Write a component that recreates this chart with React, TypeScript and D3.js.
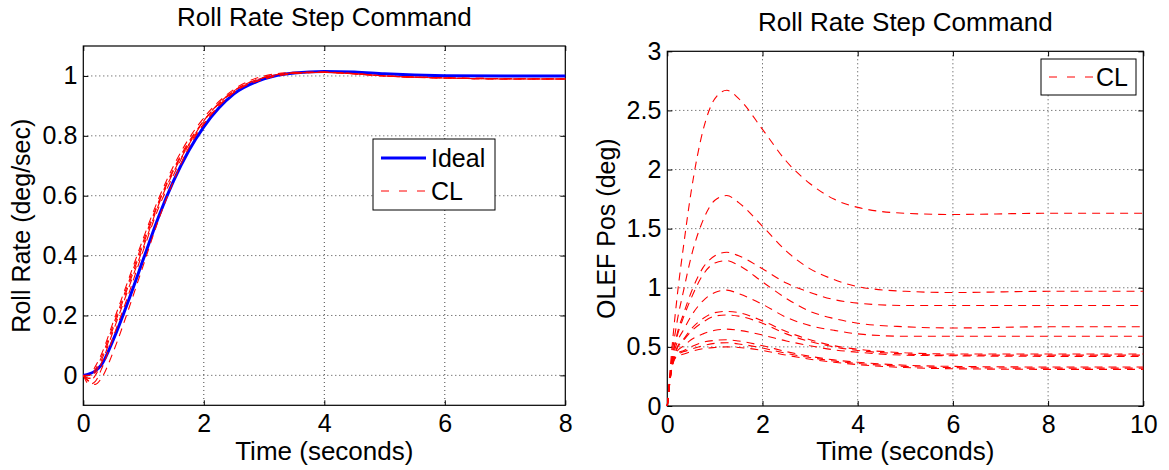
import React, { useEffect, useRef } from 'react';
import * as d3 from 'd3';

const W = 1169;
const H = 470;
const FONT = '"Liberation Sans", Arial, Helvetica, sans-serif';

// left panel: roll rate step response
const rateTime = [0, 0.1, 0.2, 0.3, 0.5, 0.75, 1, 1.25, 1.5, 1.75, 2, 2.5, 3, 3.5, 4, 4.5, 5, 6, 7, 8];
const idealRate = [0, 0.005, 0.015, 0.035, 0.12, 0.25, 0.39, 0.53, 0.65, 0.75, 0.83, 0.94, 0.99, 1.01, 1.015, 1.013, 1.007, 1.001, 1.0, 1.0];
const clRates = [
    [0, -0.01, 0.02, 0.06, 0.17, 0.31, 0.45, 0.58, 0.69, 0.78, 0.85, 0.95, 0.995, 1.01, 1.012, 1.008, 1.0, 0.993, 0.99, 0.99],
    [0, -0.02, 0.0, 0.04, 0.15, 0.29, 0.43, 0.57, 0.68, 0.77, 0.85, 0.95, 0.995, 1.01, 1.012, 1.007, 1.0, 0.993, 0.99, 0.99],
    [0, -0.03, -0.02, 0.02, 0.13, 0.27, 0.42, 0.56, 0.67, 0.77, 0.84, 0.945, 0.99, 1.008, 1.012, 1.007, 1.0, 0.994, 0.991, 0.99],
    [0, -0.02, -0.03, -0.01, 0.08, 0.22, 0.37, 0.52, 0.65, 0.76, 0.84, 0.945, 0.99, 1.008, 1.012, 1.007, 1.0, 0.994, 0.991, 0.99],
    [0, 0.0, 0.03, 0.07, 0.18, 0.32, 0.46, 0.59, 0.70, 0.79, 0.86, 0.955, 1.0, 1.012, 1.013, 1.008, 1.0, 0.993, 0.99, 0.99],
    [0, -0.01, 0.01, 0.05, 0.16, 0.30, 0.44, 0.575, 0.685, 0.775, 0.85, 0.95, 0.995, 1.01, 1.012, 1.007, 1.0, 0.993, 0.99, 0.99],
];

// right panel: OLEF position
const posTime = [0, 0.1, 0.2, 0.35, 0.5, 0.75, 1, 1.25, 1.5, 2, 2.5, 3, 3.5, 4, 5, 6, 8, 10];
const olefPos = [
    [0, 0.50, 0.90, 1.38, 1.81, 2.33, 2.60, 2.67, 2.60, 2.34, 2.07, 1.88, 1.75, 1.68, 1.63, 1.62, 1.63, 1.63],
    [0, 0.43, 0.70, 0.99, 1.26, 1.57, 1.74, 1.78, 1.72, 1.52, 1.31, 1.16, 1.07, 1.01, 0.97, 0.96, 0.97, 0.97],
    [0, 0.39, 0.60, 0.79, 0.96, 1.17, 1.27, 1.30, 1.27, 1.16, 1.04, 0.96, 0.90, 0.87, 0.85, 0.85, 0.85, 0.85],
    [0, 0.39, 0.58, 0.76, 0.91, 1.11, 1.21, 1.23, 1.19, 1.05, 0.91, 0.80, 0.74, 0.70, 0.67, 0.66, 0.67, 0.67],
    [0, 0.37, 0.53, 0.65, 0.76, 0.89, 0.96, 0.98, 0.95, 0.86, 0.75, 0.68, 0.64, 0.61, 0.59, 0.59, 0.59, 0.59],
    [0, 0.35, 0.49, 0.57, 0.65, 0.74, 0.79, 0.80, 0.79, 0.72, 0.63, 0.56, 0.51, 0.48, 0.45, 0.44, 0.44, 0.44],
    [0, 0.35, 0.48, 0.56, 0.63, 0.71, 0.76, 0.77, 0.76, 0.70, 0.61, 0.545, 0.50, 0.47, 0.44, 0.43, 0.43, 0.43],
    [0, 0.34, 0.46, 0.51, 0.56, 0.61, 0.64, 0.65, 0.64, 0.60, 0.55, 0.51, 0.475, 0.455, 0.43, 0.425, 0.42, 0.42],
    [0, 0.33, 0.44, 0.47, 0.50, 0.54, 0.555, 0.56, 0.55, 0.51, 0.46, 0.42, 0.39, 0.37, 0.345, 0.335, 0.33, 0.33],
    [0, 0.33, 0.43, 0.46, 0.48, 0.51, 0.53, 0.535, 0.525, 0.49, 0.445, 0.41, 0.38, 0.36, 0.335, 0.325, 0.32, 0.32],
    [0, 0.33, 0.42, 0.44, 0.46, 0.485, 0.495, 0.50, 0.495, 0.47, 0.43, 0.395, 0.37, 0.35, 0.325, 0.315, 0.31, 0.31],
];

const rateTicksX = [0, 2, 4, 6, 8];
const rateTicksY = [0, 0.2, 0.4, 0.6, 0.8, 1];
const posTicksX = [0, 2, 4, 6, 8, 10];
const posTicksY = [0, 0.5, 1, 1.5, 2, 2.5, 3];

type Panel = {
    left: number; right: number; top: number; bottom: number;
    xDomain: [number, number]; yDomain: [number, number];
    xTicks: number[]; yTicks: number[];
    title: string; xLabel: string; yLabel: string; yLabelX: number;
};

function drawPanel(svg: any, p: Panel) {
    const x = d3.scaleLinear().domain(p.xDomain).range([p.left, p.right]);
    const y = d3.scaleLinear().domain(p.yDomain).range([p.bottom, p.top]);
    const g = svg.append('g');

    // grid
    g.selectAll('.gx').data(p.xTicks.filter((t) => t > p.xDomain[0] && t < p.xDomain[1]))
        .enter().append('line')
        .attr('x1', (d: number) => x(d)).attr('x2', (d: number) => x(d))
        .attr('y1', p.top).attr('y2', p.bottom)
        .attr('stroke', '#444').attr('stroke-width', 1).attr('stroke-dasharray', '1,3');
    g.selectAll('.gy').data(p.yTicks.filter((t) => t > p.yDomain[0] && t < p.yDomain[1]))
        .enter().append('line')
        .attr('x1', p.left).attr('x2', p.right)
        .attr('y1', (d: number) => y(d)).attr('y2', (d: number) => y(d))
        .attr('stroke', '#444').attr('stroke-width', 1).attr('stroke-dasharray', '1,3');

    const styleAxis = (a: any) => {
        a.select('.domain').remove();
        a.selectAll('text').attr('font-family', FONT).attr('font-size', 25).attr('fill', '#000');
        a.selectAll('line').attr('stroke', '#000');
    };

    g.append('g').attr('transform', `translate(0,${p.bottom})`)
        .call(d3.axisBottom(x).tickValues(p.xTicks).tickSizeInner(-5).tickSizeOuter(0).tickPadding(9)
            .tickFormat(d3.format('d') as any))
        .call(styleAxis);
    g.append('g').attr('transform', `translate(${p.left},0)`)
        .call(d3.axisLeft(y).tickValues(p.yTicks).tickSizeInner(-5).tickSizeOuter(0).tickPadding(6)
            .tickFormat((d: any) => String(d)))
        .call(styleAxis);
    g.append('g').attr('transform', `translate(0,${p.top})`)
        .call(d3.axisTop(x).tickValues(p.xTicks).tickSizeInner(-5).tickSizeOuter(0).tickFormat(() => ''))
        .call(styleAxis);
    g.append('g').attr('transform', `translate(${p.right},0)`)
        .call(d3.axisRight(y).tickValues(p.yTicks).tickSizeInner(-5).tickSizeOuter(0).tickFormat(() => ''))
        .call(styleAxis);

    g.append('rect')
        .attr('x', p.left).attr('y', p.top)
        .attr('width', p.right - p.left).attr('height', p.bottom - p.top)
        .attr('fill', 'none').attr('stroke', '#000').attr('stroke-width', 1.2);

    g.append('text').attr('x', (p.left + p.right) / 2).attr('y', p.top - 20)
        .attr('text-anchor', 'middle').attr('font-family', FONT).attr('font-size', 26).text(p.title);
    g.append('text').attr('x', (p.left + p.right) / 2).attr('y', 460)
        .attr('text-anchor', 'middle').attr('font-family', FONT).attr('font-size', 26).text(p.xLabel);
    g.append('text')
        .attr('transform', `translate(${p.yLabelX},${(p.top + p.bottom) / 2}) rotate(-90)`)
        .attr('text-anchor', 'middle').attr('font-family', FONT).attr('font-size', 25).text(p.yLabel);

    return { x, y, g };
}

function App() {
    const ref = useRef<SVGSVGElement>(null);

    useEffect(() => {
        const svg = d3.select(ref.current);
        svg.selectAll('*').remove();

        // left chart
        const a = drawPanel(svg, {
            left: 83.3, right: 565.3, top: 46, bottom: 405.3,
            xDomain: [0, 8], yDomain: [-0.1, 1.1],
            xTicks: rateTicksX, yTicks: rateTicksY,
            title: 'Roll Rate Step Command', xLabel: 'Time (seconds)', yLabel: 'Roll Rate (deg/sec)',
            yLabelX: 30,
        });
        const rateLine = d3.line<number>()
            .x((d, i) => a.x(rateTime[i]))
            .y((d) => a.y(d))
            .curve(d3.curveMonotoneX);

        a.g.append('path').datum(idealRate)
            .attr('fill', 'none').attr('stroke', '#0000ff').attr('stroke-width', 3)
            .attr('d', rateLine);
        clRates.forEach((s) => {
            a.g.append('path').datum(s)
                .attr('fill', 'none').attr('stroke', '#ff0000').attr('stroke-width', 1.1)
                .attr('stroke-dasharray', '8,6').attr('d', rateLine);
        });

        // left legend
        const lg = a.g.append('g');
        lg.append('rect').attr('x', 373).attr('y', 139).attr('width', 122).attr('height', 71)
            .attr('fill', '#fff').attr('stroke', '#000').attr('stroke-width', 1);
        lg.append('line').attr('x1', 381).attr('x2', 426).attr('y1', 158).attr('y2', 158)
            .attr('stroke', '#0000ff').attr('stroke-width', 3);
        lg.append('line').attr('x1', 381).attr('x2', 426).attr('y1', 191).attr('y2', 191)
            .attr('stroke', '#ff0000').attr('stroke-width', 1).attr('stroke-dasharray', '8,10');
        lg.append('text').attr('x', 431).attr('y', 167).attr('font-family', FONT).attr('font-size', 25).text('Ideal');
        lg.append('text').attr('x', 431).attr('y', 200).attr('font-family', FONT).attr('font-size', 25).text('CL');

        // right chart
        const b = drawPanel(svg, {
            left: 667.3, right: 1143.3, top: 51.3, bottom: 406,
            xDomain: [0, 10], yDomain: [0, 3],
            xTicks: posTicksX, yTicks: posTicksY,
            title: 'Roll Rate Step Command', xLabel: 'Time (seconds)', yLabel: 'OLEF Pos (deg)',
            yLabelX: 615,
        });
        const posLine = d3.line<number>()
            .x((d, i) => b.x(posTime[i]))
            .y((d) => b.y(d))
            .curve(d3.curveMonotoneX);
        olefPos.forEach((s) => {
            b.g.append('path').datum(s)
                .attr('fill', 'none').attr('stroke', '#ff0000').attr('stroke-width', 1.1)
                .attr('stroke-dasharray', '8,6').attr('d', posLine);
        });

        // right legend
        const rg = b.g.append('g');
        rg.append('rect').attr('x', 1041).attr('y', 59).attr('width', 95).attr('height', 36)
            .attr('fill', '#fff').attr('stroke', '#000').attr('stroke-width', 1);
        rg.append('line').attr('x1', 1049).attr('x2', 1093).attr('y1', 77).attr('y2', 77)
            .attr('stroke', '#ff0000').attr('stroke-width', 1).attr('stroke-dasharray', '8,10');
        rg.append('text').attr('x', 1096).attr('y', 86).attr('font-family', FONT).attr('font-size', 25).text('CL');
    }, []);

    return (
        <svg ref={ref} width={W} height={H}
            style={{ position: 'absolute', left: 0, top: 0, background: '#fff' }} />
    );
}

export default App;
